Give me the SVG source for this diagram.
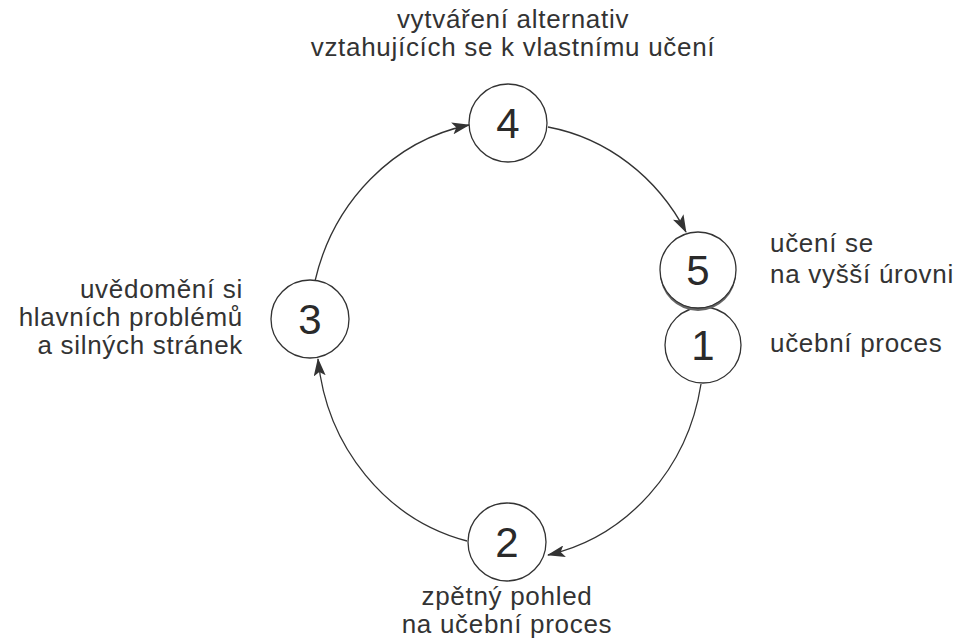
<svg xmlns="http://www.w3.org/2000/svg" width="961" height="638" viewBox="0 0 961 638">
<style>
.n{fill:#fff;stroke:#333;stroke-width:1.3}
.num{font-family:"Liberation Sans",Arial,sans-serif;font-size:42px;fill:#2a2a2a;text-anchor:middle}
.lbl{font-family:"Liberation Sans",Arial,sans-serif;font-size:26px;letter-spacing:0.7px;fill:#333}
.c{fill:none;stroke:#333;stroke-width:1.3}
</style>
<defs>
<marker id="ah" viewBox="0 0 18 12" refX="17" refY="6" markerWidth="18" markerHeight="12" markerUnits="userSpaceOnUse" orient="auto">
<path d="M0,0 L18,6 L0,12 L4,6 Z" fill="#333"/>
</marker>
</defs>
<rect width="961" height="638" fill="#fff"/>
<g id="connectors">
<path class="c" d="M315,281 A197,210 0 0 1 469,125" marker-end="url(#ah)"/>
<path class="c" d="M548,127 A197,210 0 0 1 686,232" marker-end="url(#ah)"/>
<path class="c" d="M701,384 A197,210 0 0 1 548,555" marker-end="url(#ah)"/>
<path class="c" d="M467,541 A197,210 0 0 1 318,359" marker-end="url(#ah)"/>
</g>
<g id="node1">
<circle class="n" cx="703" cy="345" r="38"/>
<text class="num" x="703" y="360">1</text>
<text class="lbl" x="770" y="352">učební proces</text>
</g>
<g id="node5">
<circle cx="698" cy="273" r="38" fill="#666"/>
<circle class="n" cx="698" cy="270" r="38"/>
<text class="num" x="698" y="285">5</text>
<text class="lbl" x="770" y="252">učení se</text>
<text class="lbl" x="770" y="283">na vyšší úrovni</text>
</g>
<g id="node4">
<circle class="n" cx="508" cy="123" r="39"/>
<text class="num" x="508" y="138">4</text>
<text class="lbl" x="513" y="28" text-anchor="middle">vytváření alternativ</text>
<text class="lbl" x="513" y="56" text-anchor="middle">vztahujících se k vlastnímu učení</text>
</g>
<g id="node3">
<circle class="n" cx="310" cy="319" r="39"/>
<text class="num" x="310" y="334">3</text>
<text class="lbl" x="243" y="298" text-anchor="end">uvědomění si</text>
<text class="lbl" x="243" y="326" text-anchor="end">hlavních problémů</text>
<text class="lbl" x="243" y="354" text-anchor="end">a silných stránek</text>
</g>
<g id="node2">
<circle class="n" cx="507" cy="542" r="39"/>
<text class="num" x="507" y="557">2</text>
<text class="lbl" x="507" y="605" text-anchor="middle">zpětný pohled</text>
<text class="lbl" x="507" y="633" text-anchor="middle">na učební proces</text>
</g>
</svg>
